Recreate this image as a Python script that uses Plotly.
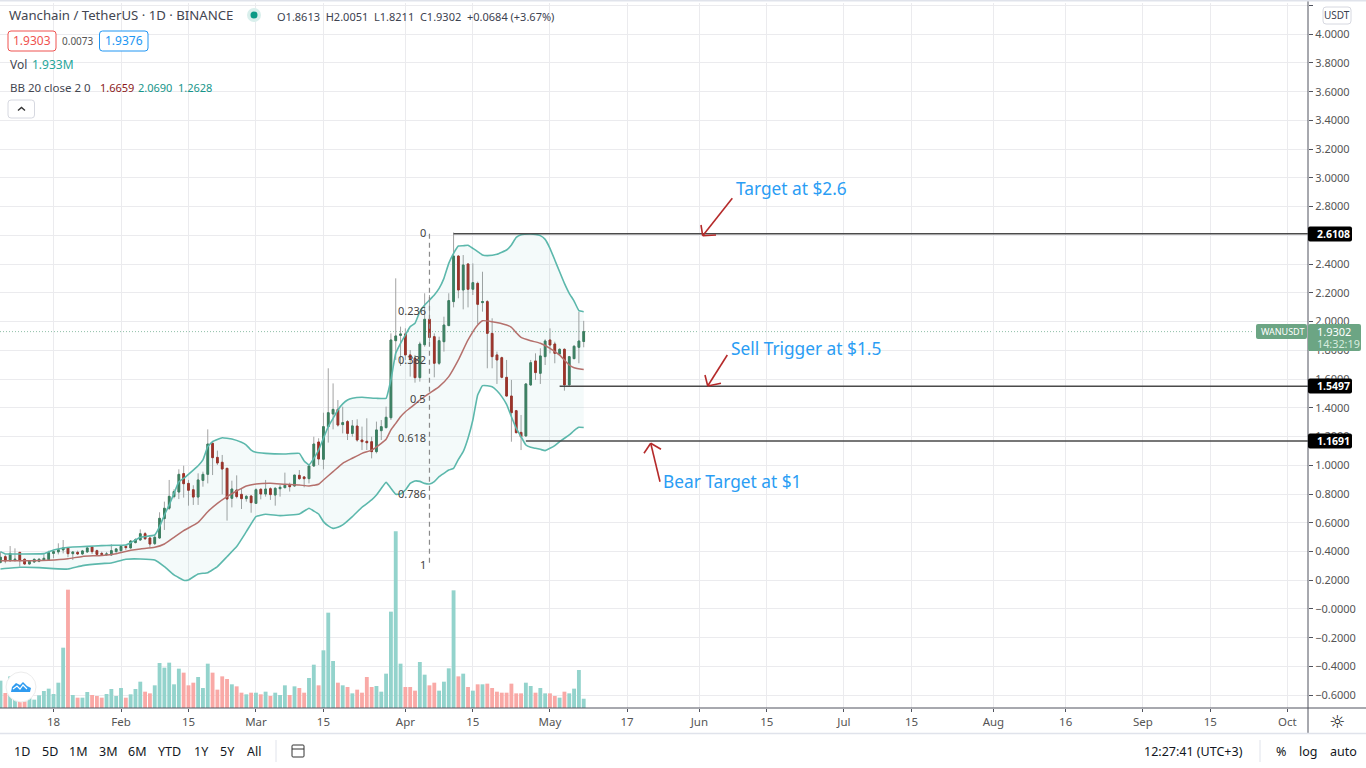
import pandas as pd
import plotly.graph_objects as go

W, H = 1366, 768
FONT = "Noto Sans"

# ---------- data ----------
start_date = "2021-01-07"
open_ = [.325,.364,.336,.339,.394,.346,.313,.327,.332,.339,.343,.387,.397,.411,.425,.385,.394,.383,.397,.431,.406,.387,.378,.376,.399,.406,.436,.425,.462,.480,.524,.494,.455,.494,.629,.701,.782,.814,.942,.874,.830,.779,.895,.937,1.153,1.055,1.021,.979,.770,.828,.798,.768,.786,.735,.833,.800,.837,.793,.837,.844,.861,.856,.930,.919,.907,.995,1.162,1.042,1.269,1.357,1.389,1.283,1.304,1.222,1.273,1.176,1.167,1.164,1.095,1.241,1.262,1.331,1.867,1.904,1.914,1.768,1.744,1.610,1.839,2.016,1.895,1.710,1.860,1.972,2.139,2.456,2.220,2.401,2.225,2.266,2.132,2.139,1.918,1.768,1.749,1.612,1.482,1.380,1.229,1.204,1.559,1.726,1.640,1.756,1.872,1.844,1.774,1.807,1.559,1.742,1.821,1.8613]
high = [.399,.376,.438,.422,.394,.353,.341,.350,.355,.383,.406,.411,.457,.480,.429,.399,.406,.411,.429,.438,.413,.399,.397,.450,.422,.443,.441,.480,.492,.554,.536,.503,.515,.673,.747,.898,.833,.972,.997,.898,.861,.944,.956,1.250,1.160,1.102,1.072,.979,.893,.930,.840,.793,.793,.840,.840,.898,.847,.847,.863,.949,.879,.932,.967,.925,1.002,1.199,1.188,1.366,1.675,1.570,1.454,1.408,1.315,1.315,1.320,1.269,1.327,1.199,1.304,1.315,1.408,1.918,2.301,1.965,1.953,1.802,1.768,1.860,2.197,2.185,1.918,1.895,2.034,2.197,2.620,2.463,2.463,2.405,2.405,2.278,2.347,2.150,2.023,1.791,1.756,1.733,1.594,1.385,1.350,1.570,1.733,1.779,1.814,1.877,1.953,1.860,1.814,1.814,1.761,1.837,2.069,2.0051]
low = [.318,.318,.329,.329,.295,.309,.311,.322,.325,.334,.341,.353,.380,.387,.360,.341,.376,.376,.392,.383,.369,.369,.369,.371,.392,.399,.411,.420,.457,.476,.480,.429,.445,.489,.550,.689,.770,.765,.775,.719,.724,.724,.851,.874,.932,1.002,.798,.615,.707,.770,.696,.747,.670,.731,.763,.782,.759,.719,.782,.842,.817,.851,.898,.847,.874,.990,1.002,.972,1.158,1.250,1.269,1.222,1.176,1.199,1.164,1.106,1.106,1.048,1.083,1.176,1.257,1.315,1.733,1.691,1.733,1.617,1.575,1.582,1.825,1.860,1.612,1.698,1.791,1.969,2.099,2.162,2.085,2.099,2.185,1.983,2.069,1.675,1.675,1.566,1.605,1.478,1.164,1.222,1.106,1.199,1.554,1.594,1.566,1.698,1.779,1.710,1.768,1.519,1.554,1.740,1.710,1.8211]
close = [.360,.334,.387,.346,.336,.313,.332,.346,.346,.353,.392,.399,.413,.425,.385,.397,.383,.404,.425,.399,.380,.380,.383,.406,.418,.436,.427,.473,.482,.524,.489,.452,.499,.631,.701,.784,.817,.937,.872,.826,.779,.898,.937,1.148,1.053,1.016,.974,.765,.835,.782,.768,.784,.740,.830,.800,.835,.796,.840,.847,.861,.851,.932,.907,.907,.995,1.148,1.044,1.269,1.366,1.389,1.280,1.297,1.222,1.274,1.176,1.164,1.157,1.095,1.246,1.269,1.334,1.872,1.900,1.914,1.768,1.742,1.610,1.844,2.016,1.890,1.710,1.867,1.976,2.146,2.456,2.220,2.394,2.225,2.271,2.120,2.139,1.918,1.756,1.733,1.612,1.482,1.366,1.227,1.199,1.566,1.714,1.645,1.761,1.865,1.837,1.779,1.807,1.559,1.756,1.828,1.865,1.9302]
volume_m = [5.69,3.12,6.59,2.08,1.39,1.39,2.08,1.74,2.64,3.54,4.03,2.91,5.27,12.56,24.64,2.71,2.15,2.15,3.33,2.71,2.50,2.15,2.91,3.96,2.50,4.16,2.15,2.85,3.96,5.48,3.40,3.05,4.72,9.37,8.40,9.44,4.93,8.19,7.36,4.72,5.27,6.45,4.16,9.23,7.36,3.82,6.59,6.04,4.93,4.51,3.19,2.85,3.19,3.19,2.85,3.40,2.50,3.19,2.71,4.72,2.71,4.51,4.16,3.19,6.25,9.02,4.72,12.01,19.85,9.79,5.27,4.72,4.37,3.05,3.82,3.19,6.45,4.37,4.58,3.40,7.15,20.06,36.78,9.23,4.37,4.37,3.61,9.58,6.94,4.72,5.27,3.61,5.48,8.26,24.50,6.59,7.15,4.37,3.61,4.93,4.93,5.07,4.16,3.40,3.19,3.19,5.07,3.05,3.05,5.27,4.58,3.19,4.16,3.05,3.05,2.50,2.15,3.40,3.05,4.03,7.91,1.933]

upper_days = [0,1,4,9,11,13,15,18,21,23,26,27,29,32,33,34,35,36,37,38,40,41,42,43,44,46,48,50,51,52,53,55,59,62,63,64,65,66,67,68,69,70,71,72,73,75,78,80,81,82,83,84,85,86,87,88,89,90,91,92,93,94,95,96,97,98,99,100,101,103,105,106,107,108,110,111,112,113,114,115,116,117,118,119,120,121]
upper_vals = [.399,.383,.383,.385,.411,.425,.431,.436,.441,.443,.445,.461,.499,.515,.573,.654,.724,.805,.886,.909,.967,.997,1.037,1.130,1.165,1.192,1.183,1.160,1.141,1.106,1.090,1.083,1.079,1.083,1.030,1.002,1.048,1.106,1.188,1.269,1.327,1.385,1.427,1.454,1.466,1.473,1.466,1.466,1.594,1.779,1.849,1.907,1.965,1.988,2.069,2.115,2.150,2.185,2.231,2.301,2.405,2.475,2.526,2.528,2.531,2.510,2.487,2.463,2.459,2.468,2.498,2.533,2.586,2.605,2.610,2.607,2.598,2.572,2.510,2.429,2.347,2.266,2.197,2.143,2.076,2.069]
mid_days = [0,7,10,14,17,21,24,27,29,32,34,36,38,41,43,45,47,49,51,53,56,59,62,64,65,66,67,69,71,73,75,77,79,80,81,82,83,84,85,87,89,91,93,95,97,99,100,102,105,106,107,108,110,112,114,116,118,119,121]
mid_vals = [.336,.336,.339,.350,.366,.373,.385,.408,.418,.429,.452,.499,.545,.603,.677,.735,.782,.821,.856,.870,.875,.868,.863,.856,.861,.868,.898,.956,1.014,1.049,1.083,1.106,1.153,1.181,1.246,1.292,1.338,1.373,1.399,1.454,1.501,1.547,1.617,1.733,1.872,1.976,2.006,1.999,1.976,1.960,1.923,1.890,1.867,1.849,1.814,1.767,1.698,1.679,1.666]
lower_days = [0,4,8,11,14,17,21,23,26,29,32,34,36,38,39,41,43,45,47,49,51,53,55,58,62,64,65,66,67,68,69,70,71,73,75,77,78,80,81,82,83,84,85,86,87,88,89,90,91,92,93,94,95,96,97,98,99,100,101,102,103,104,105,106,107,108,109,110,111,112,113,114,115,116,117,118,119,120,121]
lower_vals = [.278,.290,.288,.281,.278,.302,.316,.320,.346,.348,.341,.295,.237,.200,.202,.244,.253,.295,.364,.434,.538,.643,.659,.650,.661,.701,.682,.661,.608,.578,.561,.568,.585,.643,.708,.759,.793,.881,.840,.798,.800,.828,.874,.891,.888,.874,.870,.886,.921,.944,.967,.979,1.041,1.095,1.188,1.315,1.489,1.554,1.554,1.547,1.519,1.478,1.424,1.338,1.257,1.199,1.141,1.125,1.118,1.111,1.102,1.118,1.137,1.164,1.188,1.211,1.241,1.264,1.2628]

fib_levels = [0, .236, .382, .5, .618, .786, 1]
fib_top, fib_bottom = 2.6108, 0.30
fib_date = "2021-04-06"
price_levels = [("2021-04-11", 2.6108), ("2021-05-03", 1.5497), ("2021-04-26", 1.1691)]
last_price = 1.9302

price_ticks = [-0.6,-0.4,-0.2,0,0.2,0.4,0.6,0.8,1.0,1.2,1.4,1.6,1.8,2.0,2.2,2.4,2.6,2.8,3.0,3.2,3.4,3.6,3.8,4.0,4.2]
date_ticks = ["2021-01-18","2021-02-01","2021-02-15","2021-03-01","2021-03-15","2021-04-01","2021-04-15","2021-05-01","2021-05-17","2021-06-01","2021-06-15","2021-07-01","2021-07-15","2021-08-01","2021-08-16","2021-09-01","2021-09-15","2021-10-01"]
date_labels = ["18","Feb","15","Mar","15","Apr","15","May","17","Jun","15","Jul","15","Aug","16","Sep","15","Oct"]

# ---------- derived ----------
base = pd.Timestamp(start_date)
dates = [base + pd.Timedelta(days=i) for i in range(len(close))]
day = lambda lst: [base + pd.Timedelta(days=i) for i in lst]
up = [c >= o for o, c in zip(open_, close)]

X = lambda p: p / W
Y = lambda p: 1 - p / H
GREEN, RED = "#3c7f5f", "#a32f25"
TEAL = "#5cb8ac"

fig = go.Figure()

# volume
fig.add_trace(go.Bar(x=dates, y=volume_m, yaxis="y2",
                     marker=dict(color=["#93d3cc" if u else "#f9a9a6" for u in up], line_width=0),
                     hoverinfo="skip"))
# Bollinger band
fig.add_trace(go.Scatter(x=day(upper_days) + day(lower_days)[::-1], y=upper_vals + lower_vals[::-1],
                         mode="lines", fill="toself", fillcolor="rgba(38,166,154,0.05)",
                         line=dict(width=0), hoverinfo="skip"))
fig.add_trace(go.Scatter(x=day(upper_days), y=upper_vals, mode="lines",
                         line=dict(color=TEAL, width=1.6, shape="spline", smoothing=0.3)))
fig.add_trace(go.Scatter(x=day(lower_days), y=lower_vals, mode="lines",
                         line=dict(color=TEAL, width=1.6, shape="spline", smoothing=0.3)))
fig.add_trace(go.Scatter(x=day(mid_days), y=mid_vals, mode="lines",
                         line=dict(color="#b5706c", width=1.5, shape="spline", smoothing=0.5)))
# candle wicks (grey) and bodies
fig.add_trace(go.Candlestick(x=dates, open=open_, high=high, low=low, close=close,
                             increasing=dict(line=dict(color="#a3a3a3", width=1), fillcolor="rgba(0,0,0,0)"),
                             decreasing=dict(line=dict(color="#a3a3a3", width=1), fillcolor="rgba(0,0,0,0)"),
                             whiskerwidth=0, hoverinfo="skip"))
fig.add_trace(go.Candlestick(x=dates, open=open_, close=close,
                             high=[max(o, c) for o, c in zip(open_, close)],
                             low=[min(o, c) for o, c in zip(open_, close)],
                             increasing=dict(line=dict(color=GREEN, width=1), fillcolor=GREEN),
                             decreasing=dict(line=dict(color=RED, width=1), fillcolor=RED),
                             whiskerwidth=0, hoverinfo="skip"))

shapes = []
anns = []

def text(px, py, s, size=12.5, color="#434651", anchor="left", family=FONT, **kw):
    anns.append(dict(x=X(px), y=Y(py), xref="paper", yref="paper", text=s, showarrow=False,
                     xanchor=anchor, yanchor="middle", align=anchor,
                     font=dict(size=size, color=color, family=family), borderpad=0, **kw))

def seg(x0, y0, x1, y1, color="#e0e3eb", width=1, dash=None, layer="above"):
    shapes.append(dict(type="line", xref="paper", yref="paper", x0=X(x0), y0=Y(y0), x1=X(x1), y1=Y(y1),
                       line=dict(color=color, width=width, dash=dash), layer=layer))

def box(x0, y0, x1, y1, fill="white", line="rgba(0,0,0,0)", width=1, r=3):
    a, b, c, d = X(x0), X(x1), Y(y0), Y(y1)
    rx, ry = r / W, r / H
    path = (f"M {a+rx} {c} L {b-rx} {c} Q {b} {c} {b} {c-ry} L {b} {d+ry} Q {b} {d} {b-rx} {d} "
            f"L {a+rx} {d} Q {a} {d} {a} {d+ry} L {a} {c-ry} Q {a} {c} {a+rx} {c} Z")
    shapes.append(dict(type="path", xref="paper", yref="paper", path=path, fillcolor=fill,
                       line=dict(color=line, width=width), layer="above"))

def circle(cx, cy, r, fill, line="rgba(0,0,0,0)"):
    shapes.append(dict(type="circle", xref="paper", yref="paper", x0=X(cx - r), x1=X(cx + r),
                       y0=Y(cy - r), y1=Y(cy + r), fillcolor=fill, line=dict(color=line, width=1), layer="above"))

# price levels (data coordinates)
x_end = "2021-10-05 06:30"
for d0, lv in price_levels:
    shapes.append(dict(type="line", xref="x", yref="y", x0=d0, x1=x_end, y0=lv, y1=lv,
                       line=dict(color="#4a4a4a", width=1.4), layer="above"))
shapes.append(dict(type="line", xref="x", yref="y", x0="2021-01-06 21:30", x1="2021-09-24", y0=last_price, y1=last_price,
                   line=dict(color="#8fbfa8", width=1, dash="1px,2px"), layer="below"))
# Fibonacci
shapes.append(dict(type="line", xref="x", yref="y", x0=fib_date, x1=fib_date, y0=fib_top, y1=fib_bottom,
                   line=dict(color="#8a8a8a", width=1.2, dash="5px,4px"), layer="above"))
for lv in fib_levels:
    anns.append(dict(x=fib_date, y=fib_top - lv * (fib_top - fib_bottom), xref="x", yref="y",
                     text=f"{lv:g}", showarrow=False, xanchor="right", yanchor="middle", xshift=-1, yshift=1.5,
                     font=dict(size=11, color="#434343", family=FONT)))

# drawn arrows
AR = "#b52a2a"
for tail, tip, w1, w2 in [((732.3, 198.3), (702.7, 235.7), (701, 225), (716, 235)),
                          ((727.3, 355), (707.7, 386), (705, 375), (721, 383.3)),
                          ((660, 481.7), (650.7, 443.3), (644, 453.3), (661, 449.3))]:
    seg(*tail, *tip, color=AR, width=1.6)
    seg(*w1, *tip, color=AR, width=1.6)
    seg(*w2, *tip, color=AR, width=1.6)
BL = "#2a9df4"
text(735, 188.5, "Target at $2.6", size=17.3, color=BL)
text(730, 349, "Sell Trigger at $1.5", size=17.3, color=BL)
text(662, 481.5, "Bear Target at $1", size=17.3, color=BL)

# chrome lines
seg(0, 708, 1366, 708, color="#50535e", width=1)
seg(1308, 0, 1308, 733, color="#50535e", width=1)
seg(0, 733.5, 1366, 733.5, color="#e0e3eb", width=1.5)
seg(0, 0.5, 1366, 0.5, color="#e0e3eb", width=2)

# header
text(8, 15.5, "Wanchain / TetherUS · 1D · BINANCE", size=13.2)
circle(254, 15, 7, "#d9efec")
circle(254, 15, 3.5, "#0b9a86")
text(276, 16.5, "O1.8613  H2.0051  L1.8211  C1.9302  +0.0684 (+3.67%)", size=11, color="#3c4250")
box(8, 31, 56, 51, line="#ef5350")
text(32, 40.5, "1.9303", size=12, color="#ef5350", anchor="center")
text(77.5, 40.5, "0.0073", size=10, color="#555", anchor="center")
box(99.5, 31, 148, 51, line="#2196f3")
text(124, 40.5, "1.9376", size=12, color="#2196f3", anchor="center")
text(9, 64.5, "Vol", size=12)
text(31, 64.5, "1.933M", size=12, color="#26a69a")
text(9, 87, "BB 20 close 2 0", size=11.5)
text(99, 87, "1.6659", size=11, color="#8b1a1a")
text(137, 87, "2.0690", size=11, color="#16958a")
text(177, 87, "1.2628", size=11, color="#16958a")
box(8, 100, 34.5, 118, line="#d6d8e0")
shapes.append(dict(type="path", xref="paper", yref="paper",
                   path=f"M {X(18)} {Y(110.5)} L {X(21.5)} {Y(107.5)} L {X(25)} {Y(110.5)}",
                   line=dict(color="#333", width=1.4), layer="above"))
box(1323, 7, 1351, 24, line="#d6d8e0")
text(1337, 15.5, "USDT", size=10, anchor="center", color="#3c4250")

# logo
circle(21, 687, 15, "white", "#ececec")
shapes.append(dict(type="path", xref="paper", yref="paper", fillcolor="#2f9bf0", line=dict(width=0), layer="above",
                   path=" ".join(f"{c} {X(a)} {Y(b)}" for c, a, b in [("M",11,692),("L",12,687),("L",16,683),("L",20,685),("L",23,682),("L",27,686),("L",31,688),("L",30,692)]) + " Z"))
shapes.append(dict(type="path", xref="paper", yref="paper", line=dict(color="white", width=1.2), layer="above",
                   path=" ".join(f"{c} {X(a)} {Y(b)}" for c, a, b in [("M",13,689),("L",17,686),("L",20,689),("L",23,685),("L",27,689)])))

# price tags
for lv, py in [("2.6108", 234), ("1.5497", 386), ("1.1691", 441)]:
    box(1308, py - 7.5, 1352, py + 7.5, fill="#000000", r=2)
    text(1316, py, f"<b>{lv}</b>", size=10.5, color="white")
box(1256, 324, 1307, 339, fill="#6ca584", r=2)
text(1260, 331.5, "WANUSDT", size=9, color="white")
box(1308, 324, 1361, 351, fill="#6ca584", r=2)
text(1316, 331.5, "1.9302", size=11, color="white")
text(1316, 343.5, "14:32:19", size=10.8, color="#d8ecdf")

# bottom bar
BT = "#131722"
for lbl, px in [("1D",22),("5D",50),("1M",78),("3M",108),("6M",137),("YTD",169),("1Y",201),("5Y",227),("All",254)]:
    text(px, 751, lbl, size=12.5, color=BT, anchor="center")
seg(276, 740, 276, 762, color="#e0e3eb")
box(292, 745, 304, 757, fill="rgba(0,0,0,0)", line="#333", r=1)
seg(292, 749, 304, 749, color="#333")
text(1193, 751, "12:27:41 (UTC+3)", size=12.5, color=BT, anchor="center")
seg(1260, 740, 1260, 762, color="#e0e3eb")
text(1281, 751, "%", size=12.5, color=BT, anchor="center")
text(1308, 751, "log", size=12.5, color=BT, anchor="center")
text(1343, 751, "auto", size=12.5, color=BT, anchor="center")
text(1337, 721, "☼", size=18, color="#222", anchor="center", family="DejaVu Sans")

GRID = "#ebebee"
fig.update_layout(
    width=W, height=H, margin=dict(l=0, r=0, t=0, b=0), paper_bgcolor="white", plot_bgcolor="white",
    showlegend=False, bargap=0.2, boxgap=0.5, shapes=shapes, annotations=anns,
    font=dict(family=FONT, size=11, color="#555"),
    xaxis=dict(domain=[0, 1308 / W], type="date", range=["2021-01-06 21:30", x_end],
               tickmode="array", tickvals=date_ticks, ticktext=date_labels, showgrid=True, gridcolor=GRID,
               ticks="outside", ticklen=3, tickcolor="#50535e", showline=False, zeroline=False,
               rangeslider=dict(visible=False), tickfont=dict(size=11.5, color="#555")),
    yaxis=dict(domain=[(H - 708) / H, (H - 3) / H], range=[-0.689, 4.217], side="right",
               tickmode="array", tickvals=price_ticks,
               ticktext=[("\u2212" if v <= 0 else "") + f"{abs(v):.4f}" for v in price_ticks],
               showgrid=True, gridcolor=GRID, zeroline=False, showline=False,
               ticks="outside", ticklen=4, tickcolor="#50535e", tickfont=dict(size=11, color="#555")),
    yaxis2=dict(domain=[(H - 708) / H, (H - 3) / H], overlaying="y", range=[0, 146.8], visible=False),
)
fig.write_html("out.html", config=dict(displayModeBar=False),
               post_script="document.body.style.margin='0';document.documentElement.style.overflow='hidden';")
